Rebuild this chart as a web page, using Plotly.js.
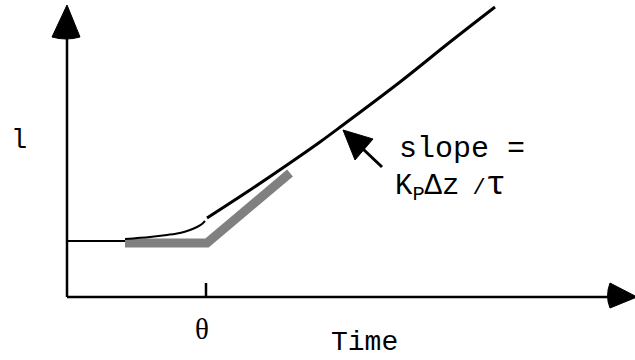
<!DOCTYPE html>
<html>
<head>
<meta charset="utf-8">
<script src="https://cdn.plot.ly/plotly-3.0.1.min.js"></script>
<style>html,body{margin:0;padding:0;background:#fff;}#chart{width:635px;height:360px;}</style>
</head>
<body>
<div id="chart"></div>
<script>
// Coordinates: x = time units from origin, y = level units from origin
const baseX = [0, 58];
const baseY = [56, 56];
const curveX = [58, 83, 100, 113, 123, 130, 135, 138];
const curveY = [58, 60, 62, 64, 67, 70, 73, 76];
const rampX = [140, 183, 220, 253, 276, 333, 383, 428];
const rampY = [79, 107, 132, 155, 172, 215, 255, 290];
const approxX = [58, 140, 223];
const approxY = [54, 54, 124];
const thetaTime = 139;
const xAxisEnd = 543;
const yAxisEnd = 260;
const labelY = "l";
const labelX = "Time";
const labelTheta = "θ";
const slopeLine1 = "slope =";
const slopeLine2 = 'K<sub>P</sub>Δz<span style="font-size:22px"> /</span><span style="font-size:34px">τ</span>';

const mono = "Liberation Mono, Courier New, monospace";
const serif = "Liberation Serif, Times New Roman, serif";

const traces = [
  {x: approxX, y: approxY, mode: 'lines', line: {color: '#808080', width: 9}, hoverinfo: 'skip'},
  {x: baseX, y: baseY, mode: 'lines', line: {color: '#000', width: 2}, hoverinfo: 'skip'},
  {x: curveX, y: curveY, mode: 'lines', line: {color: '#000', width: 2, shape: 'spline'}, hoverinfo: 'skip'},
  {x: rampX, y: rampY, mode: 'lines', line: {color: '#000', width: 3, shape: 'spline'}, hoverinfo: 'skip'}
];

const shapes = [
  {type: 'line', xref: 'x', yref: 'y', x0: 0, y0: 0, x1: 0, y1: yAxisEnd, line: {color: '#000', width: 2.5}},
  {type: 'line', xref: 'x', yref: 'y', x0: 0, y0: 0, x1: xAxisEnd, y1: 0, line: {color: '#000', width: 2.5}},
  {type: 'path', xref: 'x', yref: 'y', path: 'M -15,260 L 0,292 L 13,260 Q -1,256 -15,260 Z', fillcolor: '#000', line: {color: '#000', width: 1}},
  {type: 'path', xref: 'x', yref: 'y', path: 'M 543,14 L 570,0 L 543,-11 Q 538,1 543,14 Z', fillcolor: '#000', line: {color: '#000', width: 1}},
  {type: 'line', xref: 'x', yref: 'y', x0: thetaTime, y0: 0, x1: thetaTime, y1: 14, line: {color: '#000', width: 2.5}},
  // slope pointer arrow
  {type: 'line', xref: 'x', yref: 'y', x0: 296, y0: 148, x1: 315, y1: 130, line: {color: '#000', width: 3}},
  {type: 'path', xref: 'x', yref: 'y', path: 'M 276,167 L 306,158 L 288,137 Z', fillcolor: '#000', line: {color: '#000', width: 1}}
];

const annotations = [
  {xref: 'x', yref: 'y', x: -58, y: 156, xanchor: 'left', yanchor: 'middle', text: labelY, showarrow: false, font: {family: mono, size: 27, color: '#000'}},
  {xref: 'x', yref: 'y', x: 135, y: -32, xanchor: 'center', yanchor: 'middle', text: labelTheta, showarrow: false, font: {family: serif, size: 29, color: '#000'}},
  {xref: 'x', yref: 'y', x: 297, y: -63, xanchor: 'center', yanchor: 'bottom', text: labelX, showarrow: false, font: {family: mono, size: 28, color: '#000'}},
  {xref: 'x', yref: 'y', x: 330, y: 148, xanchor: 'left', yanchor: 'middle', text: slopeLine1, showarrow: false, font: {family: mono, size: 30, color: '#000'}},
  {xref: 'x', yref: 'y', x: 326, y: 111, xanchor: 'left', yanchor: 'middle', text: slopeLine2, showarrow: false, font: {family: mono, size: 29, color: '#000'}}
];

const layout = {
  width: 635, height: 360,
  margin: {l: 0, r: 0, t: 0, b: 0},
  paper_bgcolor: '#fff', plot_bgcolor: '#fff',
  showlegend: false,
  xaxis: {range: [-67, 568], visible: false, fixedrange: true},
  yaxis: {range: [-63, 297], visible: false, fixedrange: true},
  shapes: shapes,
  annotations: annotations
};

Plotly.newPlot('chart', traces, layout, {staticPlot: true, displayModeBar: false});
</script>
</body>
</html>
